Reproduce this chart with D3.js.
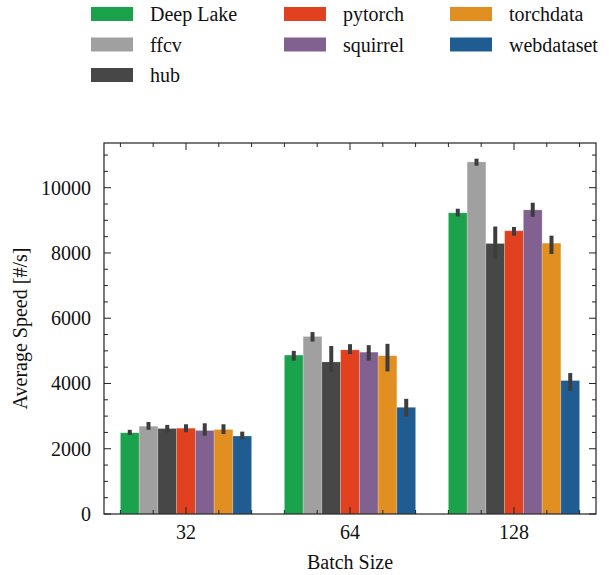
<!DOCTYPE html>
<html>
<head>
<meta charset="utf-8">
<script src="https://cdn.jsdelivr.net/npm/d3@7/dist/d3.min.js"></script>
<style>
  body { margin: 0; background: #fff; }
  svg { display: block; }
</style>
</head>
<body>
<svg id="chart" width="609" height="575"></svg>
<script>
// ---- data ----
const batchSizes = ["32", "64", "128"];
const seriesNames = ["Deep Lake", "ffcv", "hub", "pytorch", "squirrel", "torchdata", "webdataset"];
const seriesColors = ["#1ba24c", "#a0a0a0", "#474747", "#e1411f", "#806190", "#e28f22", "#1f5c92"];
// mean values per series, in batchSizes order
const deepLake   = [2490, 4870, 9230];
const ffcv       = [2690, 5440, 10790];
const hub        = [2620, 4660, 8290];
const pytorch    = [2630, 5030, 8680];
const squirrel   = [2560, 4960, 9320];
const torchdata  = [2590, 4850, 8300];
const webdataset = [2390, 3270, 4090];
// error bar low / high per series
const errLow  = [[2420, 4700, 9120], [2580, 5285, 10675], [2500, 4350, 7810], [2505, 4900, 8530], [2400, 4700, 9110], [2450, 4370, 7970], [2290, 2985, 3770]];
const errHigh = [[2580, 5000, 9356], [2820, 5575, 10890], [2730, 5150, 8810], [2750, 5205, 8795], [2780, 5175, 9540], [2750, 5215, 8530], [2525, 3530, 4320]];
const yTicks = [0, 2000, 4000, 6000, 8000, 10000];
const yLabel = "Average Speed [#/s]";
const xLabel = "Batch Size";

const seriesValues = [deepLake, ffcv, hub, pytorch, squirrel, torchdata, webdataset];

// ---- layout ----
const FONT = "Liberation Serif, Times New Roman, serif";
const svg = d3.select("#chart").attr("font-family", FONT);
const L = 104, R = 596, T = 143, B = 514;

const x0 = d3.scaleBand().domain(batchSizes).range([L, R]).paddingInner(0.2).paddingOuter(0.1);
const x1 = d3.scaleBand().domain(seriesNames).range([0, x0.bandwidth()]).padding(0);
const xu = d3.scaleLinear().domain([-0.5, 2.5]).range([L, R]); // category units for ticks
const y = d3.scaleLinear().domain([0, 11370]).range([B, T]);
const color = d3.scaleOrdinal().domain(seriesNames).range(seriesColors);

const records = [];
seriesNames.forEach((s, si) => {
  batchSizes.forEach((b, bi) => {
    records.push({ s, b, v: seriesValues[si][bi], lo: errLow[si][bi], hi: errHigh[si][bi] });
  });
});

// bars
svg.append("g").selectAll("rect").data(records).join("rect")
  .attr("x", d => x0(d.b) + x1(d.s))
  .attr("y", d => y(d.v))
  .attr("width", x1.bandwidth())
  .attr("height", d => y(0) - y(d.v))
  .attr("fill", d => color(d.s))
  .attr("stroke", "#ffffff")
  .attr("stroke-opacity", 0.25)
  .attr("stroke-width", 0.8);

// error bars
svg.append("g").selectAll("line").data(records).join("line")
  .attr("x1", d => x0(d.b) + x1(d.s) + x1.bandwidth() / 2)
  .attr("x2", d => x0(d.b) + x1(d.s) + x1.bandwidth() / 2)
  .attr("y1", d => y(d.lo))
  .attr("y2", d => y(d.hi))
  .attr("stroke", "#3d3d3d")
  .attr("stroke-width", 4);

// ticks
const xTickVals = d3.range(-0.4, 2.41, 0.2).map(v => Math.round(v * 10) / 10);
const isMajorX = v => Math.abs(v - Math.round(v)) < 1e-6;
const yMinor = d3.range(0, 11370, 500);

const tickG = svg.append("g").attr("stroke", "#222").attr("stroke-width", 1);
xTickVals.forEach(v => {
  const len = isMajorX(v) ? 7 : 4;
  const px = xu(v);
  tickG.append("line").attr("x1", px).attr("x2", px).attr("y1", B).attr("y2", B - len);
  tickG.append("line").attr("x1", px).attr("x2", px).attr("y1", T).attr("y2", T + len);
});
yMinor.forEach(v => {
  const len = v % 2000 === 0 ? 7 : 4;
  const py = y(v);
  tickG.append("line").attr("x1", L).attr("x2", L + len).attr("y1", py).attr("y2", py);
  tickG.append("line").attr("x1", R).attr("x2", R - len).attr("y1", py).attr("y2", py);
});

// frame
svg.append("rect").attr("x", L).attr("y", T).attr("width", R - L).attr("height", B - T)
  .attr("fill", "none").attr("stroke", "#222").attr("stroke-width", 1.2);

// tick labels
svg.append("g").selectAll("text").data(batchSizes).join("text")
  .attr("x", d => x0(d) + x0.bandwidth() / 2)
  .attr("y", 539)
  .attr("text-anchor", "middle")
  .attr("font-size", 20)
  .attr("fill", "#111")
  .text(d => d);

svg.append("g").selectAll("text").data(yTicks).join("text")
  .attr("x", 91)
  .attr("y", d => y(d) + 7)
  .attr("text-anchor", "end")
  .attr("font-size", 20)
  .attr("fill", "#111")
  .text(d => d);

// axis labels
svg.append("text").attr("x", (L + R) / 2).attr("y", 569).attr("text-anchor", "middle")
  .attr("font-size", 20).attr("fill", "#111").text(xLabel);
svg.append("text").attr("transform", `translate(27,${(T + B) / 2}) rotate(-90)`)
  .attr("text-anchor", "middle").attr("font-size", 20).attr("fill", "#111").text(yLabel);

// legend: 3 columns holding 3, 2, 2 entries
const colStart = [0, 3, 5];
const colX = [91, 284, 450];
const rowY = [14, 44.5, 75];
const leg = svg.append("g");
seriesNames.forEach((s, i) => {
  const c = i >= colStart[2] ? 2 : (i >= colStart[1] ? 1 : 0);
  const r = i - colStart[c];
  leg.append("rect").attr("x", colX[c]).attr("y", rowY[r] - 7).attr("width", 42).attr("height", 14)
    .attr("fill", color(s));
  leg.append("text").attr("x", colX[c] + 59).attr("y", rowY[r] + 7).attr("font-size", 20)
    .attr("fill", "#111").text(s);
});
</script>
</body>
</html>
